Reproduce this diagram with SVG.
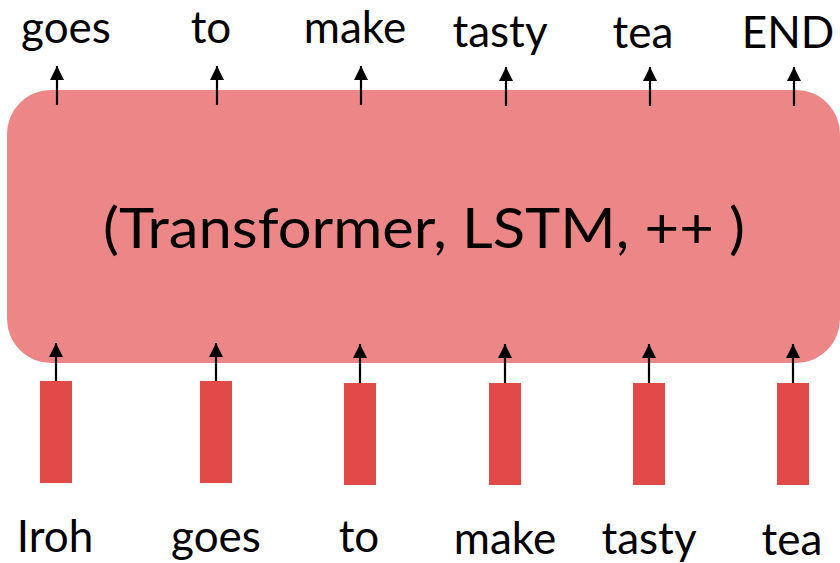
<svg xmlns="http://www.w3.org/2000/svg" width="840" height="563" viewBox="0 0 840 563">
<defs>
<marker id="ah" markerWidth="15" markerHeight="15" refX="7.5" refY="0" viewBox="0 -1 15 16" orient="0" markerUnits="userSpaceOnUse">
<path d="M0,15 L7.5,0 L15,15 Z" fill="#000"/>
</marker>
<style>
.lbl{font-family:Lato,"Open Sans","Liberation Sans",sans-serif;font-size:44px;fill:#000;text-anchor:middle}
.bar{fill:#E24A4A}
.ar{stroke:#000;stroke-width:2.2;fill:none;marker-end:url(#ah)}
</style>
</defs>
<rect width="840" height="563" fill="#fff"/>
<g id="model">
<rect x="7" y="90" width="833" height="273" rx="44" ry="44" fill="#ED8787"/>
<text x="424" y="248" class="lbl" style="font-size:56px" textLength="642" lengthAdjust="spacingAndGlyphs">(Transformer, LSTM, ++ )</text>
</g>
<g id="inputs">
<g id="in1"><rect class="bar" x="40" y="381" width="32" height="102"/><text class="lbl" x="55" y="552">Iroh</text></g>
<g id="in2"><rect class="bar" x="200" y="381" width="32" height="102"/><text class="lbl" x="216" y="552">goes</text></g>
<g id="in3"><rect class="bar" x="344" y="383" width="32" height="102"/><text class="lbl" x="359" y="552">to</text></g>
<g id="in4"><rect class="bar" x="489" y="383" width="32" height="102"/><text class="lbl" x="505" y="554">make</text></g>
<g id="in5"><rect class="bar" x="633" y="383" width="32" height="102"/><text class="lbl" x="649" y="554">tasty</text></g>
<g id="in6"><rect class="bar" x="777" y="383" width="32" height="102"/><text class="lbl" x="792" y="555">tea</text></g>
</g>
<g id="outputs">
<g id="out1"><text class="lbl" x="66" y="43">goes</text></g>
<g id="out2"><text class="lbl" x="211" y="43">to</text></g>
<g id="out3"><text class="lbl" x="355" y="43">make</text></g>
<g id="out4"><text class="lbl" x="500" y="47">tasty</text></g>
<g id="out5"><text class="lbl" x="643" y="48">tea</text></g>
<g id="out6"><text class="lbl" x="788" y="48">END</text></g>
</g>
<g id="connectors">
<line class="ar" x1="56" y1="381" x2="56" y2="343"/>
<line class="ar" x1="216" y1="381" x2="216" y2="343"/>
<line class="ar" x1="360" y1="383" x2="360" y2="344"/>
<line class="ar" x1="505" y1="383" x2="505" y2="344"/>
<line class="ar" x1="649" y1="383" x2="649" y2="344"/>
<line class="ar" x1="793" y1="383" x2="793" y2="344"/>
<line class="ar" x1="57" y1="105" x2="57" y2="66"/>
<line class="ar" x1="217" y1="105" x2="217" y2="66"/>
<line class="ar" x1="361" y1="105" x2="361" y2="66"/>
<line class="ar" x1="506" y1="106" x2="506" y2="67"/>
<line class="ar" x1="650" y1="106" x2="650" y2="67"/>
<line class="ar" x1="794" y1="106" x2="794" y2="67"/>
</g>
</svg>
